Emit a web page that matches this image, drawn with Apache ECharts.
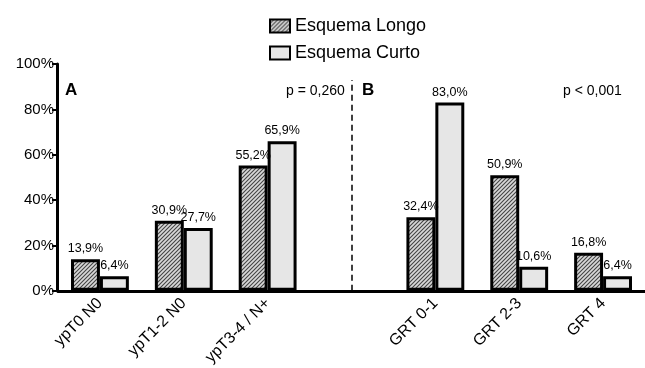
<!DOCTYPE html>
<html><head><meta charset="utf-8">
<script src="https://cdn.jsdelivr.net/npm/echarts@6/dist/echarts.min.js"></script>
<style>html,body{margin:0;padding:0;background:#fff}#c{width:645px;height:368px}</style>
</head><body><div id="c"></div>
<script>
const categories = ['ypT0 N0','ypT1-2 N0','ypT3-4 / N+','','GRT 0-1','GRT 2-3','GRT 4'];
const longo = [13.9, 30.9, 55.2, null, 32.4, 50.9, 16.8];
const curto = [6.4, 27.7, 65.9, null, 83.0, 10.6, 6.4];
const yTicks = [0, 20, 40, 60, 80, 100];

function hatch(){
  const c = document.createElement('canvas');
  c.width = 4; c.height = 4;
  const g = c.getContext('2d');
  g.fillStyle = '#d8d8d8'; g.fillRect(0,0,4,4);
  g.strokeStyle = '#444'; g.lineWidth = 1.1;
  g.beginPath();
  g.moveTo(0,4); g.lineTo(4,0);
  g.moveTo(-1,1); g.lineTo(1,-1);
  g.moveTo(3,5); g.lineTo(5,3);
  g.stroke();
  return c;
}
const pat = {image: hatch(), repeat: 'repeat'};
const font = 'Liberation Sans, Arial, sans-serif';
const fmt = p => p.value == null ? '' : p.value.toFixed(1).replace('.', ',') + '%';

const chart = echarts.init(document.getElementById('c'));
chart.setOption({
  animation: false,
  textStyle: {fontFamily: font},
  legend: {
    orient: 'vertical', left: 264, top: 12, itemGap: 9,
    itemWidth: 20, itemHeight: 13, icon: 'rect',
    textStyle: {fontSize: 18, color: '#000', fontFamily: font},
    data: ['Esquema Longo', 'Esquema Curto']
  },
  grid: {left: 58, right: -3, top: 64, bottom: 76},
  xAxis: {
    type: 'category', data: categories,
    axisLine: {lineStyle: {color: '#000', width: 3}},
    axisTick: {alignWithLabel: true, length: 6, lineStyle: {color: '#000', width: 2}},
    axisLabel: {rotate: 45, color: '#000', fontSize: 16, margin: 10, fontFamily: font, interval: 0}
  },
  yAxis: {
    type: 'value', min: 0, max: 100, interval: 20, offset: 1,
    axisLine: {show: true, lineStyle: {color: '#000', width: 3}},
    axisTick: {show: true, length: 5, lineStyle: {color: '#000', width: 2}},
    splitLine: {show: false},
    axisLabel: {formatter: v => yTicks.includes(v) ? v + '%' : '', color: '#000', fontSize: 15, margin: 3, fontFamily: font}
  },
  series: [
    {
      name: 'Esquema Longo', type: 'bar', data: longo,
      barGap: '0%', barCategoryGap: '31%',
      itemStyle: {color: pat, borderColor: '#000', borderWidth: 3},
      label: {show: true, position: 'top', formatter: fmt, color: '#000', fontSize: 12.5, distance: 4, fontFamily: font}
    },
    {
      name: 'Esquema Curto', type: 'bar', data: curto,
      itemStyle: {color: '#e6e6e6', borderColor: '#000', borderWidth: 3},
      label: {show: true, position: 'top', formatter: fmt, color: '#000', fontSize: 12.5, distance: 4, fontFamily: font}
    },
    {
      name: 'divider', type: 'line', data: [], silent: true,
      markLine: {
        silent: true, symbol: 'none', label: {show: false},
        lineStyle: {color: '#000', type: [6, 4], width: 1.5},
        data: [[{coord: [3, 0]}, {coord: [3, 93]}]]
      }
    }
  ],
  graphic: [
    {type: 'text', left: 65, top: 82, style: {text: 'A', font: 'bold 17px ' + font, fill: '#000'}},
    {type: 'text', left: 286, top: 84, style: {text: 'p = 0,260', font: '14px ' + font, fill: '#000'}},
    {type: 'text', left: 362, top: 82, style: {text: 'B', font: 'bold 17px ' + font, fill: '#000'}},
    {type: 'text', left: 563, top: 84, style: {text: 'p < 0,001', font: '14px ' + font, fill: '#000'}}
  ]
});
</script></body></html>
